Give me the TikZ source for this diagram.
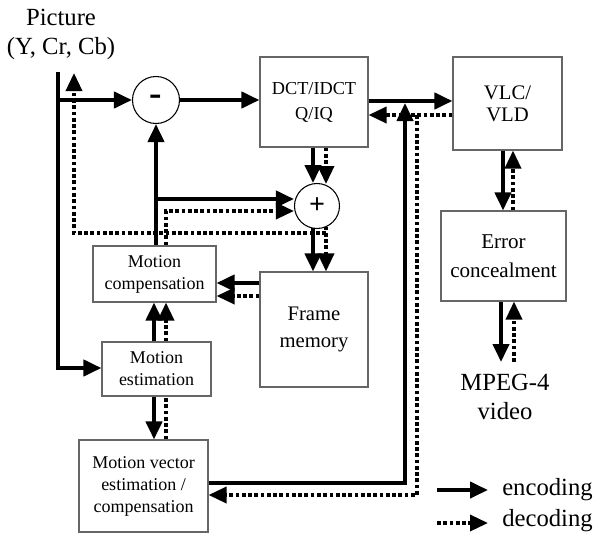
\documentclass[tikz,border=0pt]{standalone}
\usepackage{fontspec}
\setmainfont{Liberation Serif}
\usetikzlibrary{arrows.meta}
\begin{document}
\begin{tikzpicture}[x=0.75pt,y=-0.75pt,
  box/.style={draw=black!60, line width=0.8pt, align=center, inner sep=0pt, anchor=center},
  small/.style={font=\fontsize{13.5}{16.5}\selectfont},
  enc/.style={line width=3pt},
  dec/.style={line width=2.6pt, dash pattern=on 2.8pt off 1.9pt},
  tip/.style={-{Triangle[length=13.5pt,width=12pt]}},
  circ/.style={circle, draw, line width=0.8pt, inner sep=0pt},
  big/.style={font=\fontsize{18.5}{21.75}\selectfont}
]
\useasboundingbox (0,0) rectangle (599,543);

% blocks
\node[box, minimum width=81pt, minimum height=67.5pt, font=\fontsize{13.7}{18.75}\selectfont] (dct) at (314,102) {DCT/IDCT\\Q/IQ};
\node[box, minimum width=81.75pt, minimum height=69.75pt, font=\fontsize{15.5}{16.5}\selectfont] (vlc) at (507.5,103.5) {VLC/\\VLD};
\node[box, minimum width=93.75pt, minimum height=67.5pt, font=\fontsize{15.8}{21.75}\selectfont] (err) at (503.5,256) {Error\\concealment};
\node[box, minimum width=81pt, minimum height=86.25pt, font=\fontsize{15.5}{20.25}\selectfont] (fm) at (314,329.5) {Frame\\memory};
\node[box, small, minimum width=92.25pt, minimum height=42pt] (mc) at (154.5,274) {Motion\\compensation};
\node[box, small, minimum width=81.75pt, minimum height=40.5pt] (me) at (156.5,369) {Motion\\estimation};
\node[box, small, minimum width=96.75pt, minimum height=69pt] (mve) at (143.5,486) {Motion vector\\estimation /\\compensation};
\node[circ, minimum size=35.25pt, font=\fontsize{28}{28}\selectfont\bfseries] (minus) at (156,100) {-};
\node[circ, minimum size=33.75pt, font=\fontsize{21}{21}\selectfont\bfseries] (plus) at (317,206) {+};

% texts
\node[big, align=center] (pic) at (61,34) {Picture\\(Y, Cr, Cb)};
\node[big, align=center] (mpeg) at (505,397) {MPEG-4\\video};
\node[big, anchor=west, inner sep=0pt] (lenc) at (502,490) {encoding};
\node[big, anchor=west, inner sep=0pt] (ldec) at (502,521) {decoding};

% junction coordinates
\coordinate (ptop) at (58,72);
\coordinate (pbend) at (58,368);
\coordinate (pj) at (58,100);
\coordinate (mvA) at (405,483);
\coordinate (mvT) at (405,103);
\coordinate (dvA) at (417,115);
\coordinate (dvB) at (417,495);
\coordinate (psT) at (313,183);
\coordinate (pdT) at (326,184);
\coordinate (psB) at (313,228);
\coordinate (pdB) at (326,226.5);
\coordinate (pdJ) at (326,233);
\coordinate (pdL) at (74,233);
\coordinate (picD) at (74,73);
\coordinate (sJ) at (156,199);
\coordinate (dJ) at (166,211);
\coordinate (mpS) at (501,362);
\coordinate (mpD) at (514,362);
\coordinate (leS) at (437,490);
\coordinate (leSt) at (488,490);
\coordinate (ldS) at (437,523);
\coordinate (ldSt) at (488,523);

% input picture
\draw[enc,tip] (ptop) -- (pbend) -- (me.west |- pbend);
\draw[enc,tip] (pj) -- (minus.west |- pj);
\draw[enc,tip] (minus.east) -- (minus.east -| dct.west);

% DCT <-> VLC
\draw[enc,tip] (dct.east |- 0,101) -- (vlc.west |- 0,101);
\draw[dec,tip] (vlc.west |- 0,115) -- (dct.east |- 0,115);

% motion vectors
\draw[enc,tip] (mve.east |- mvA) -- (mvA) -- (mvT);
\draw[dec,tip] (dvA) -- (dvB) -- (mve.east |- dvB);

% DCT -> plus
\draw[enc,tip] (dct.south -| psT) -- (psT);
\draw[dec,tip] (dct.south -| pdT) -- (pdT);

% plus -> frame memory, output
\draw[enc,tip] (psB) -- (fm.north -| psB);
\draw[dec,tip] (pdB) -- (fm.north -| pdB);
\draw[dec,tip] (pdJ) -- (pdL) -- (picD);

% frame memory -> MC
\draw[enc,tip] (fm.west |- 0,283) -- (mc.east |- 0,283);
\draw[dec,tip] (fm.west |- 0,296) -- (mc.east |- 0,296);

% ME -> MC
\draw[enc,tip] (me.north -| 154,0) -- (mc.south -| 154,0);
\draw[dec,tip] (me.north -| 166,0) -- (mc.south -| 166,0);

% ME <-> MVE
\draw[enc,tip] (me.south -| 154,0) -- (mve.north -| 154,0);
\draw[dec] (mve.north -| 166,0) -- (me.south -| 166,0);

% MC -> minus, plus
\draw[enc,tip] (mc.north -| minus.south) -- (minus.south);
\draw[enc,tip] (sJ) -- (plus.west |- sJ);
\draw[dec,tip] (mc.north -| dJ) -- (dJ) -- (plus.west |- dJ);

% VLC <-> error concealment
\draw[enc,tip] (vlc.south -| 503,0) -- (err.north -| 503,0);
\draw[dec,tip] (err.north -| 513,0) -- (vlc.south -| 513,0);

% error concealment <-> MPEG-4
\draw[enc,tip] (err.south -| mpS) -- (mpS);
\draw[dec,tip] (mpD) -- (err.south -| mpD);

% legend
\draw[enc,tip] (leS) -- (leSt);
\draw[dec,tip] (ldS) -- (ldSt);
\end{tikzpicture}
\end{document}
